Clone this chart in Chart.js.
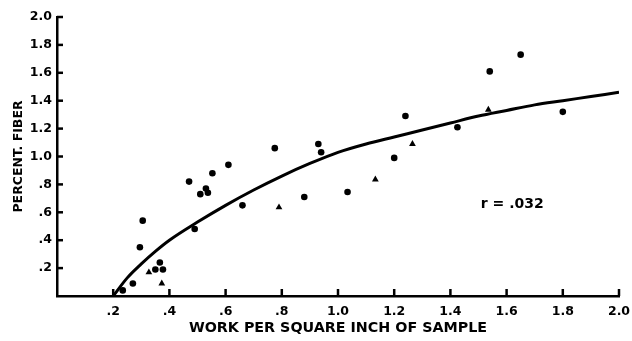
<!DOCTYPE html>
<html><head><meta charset="utf-8">
<script src="https://cdn.jsdelivr.net/npm/chart.js@4"></script>
<style>html,body{margin:0;padding:0;background:#fff}#w{width:632px;height:341px}</style>
</head><body><div id="w"><canvas id="c"></canvas></div>
<script>
const dotX = [0.234,0.27,0.295,0.305,0.35,0.366,0.377,0.47,0.49,0.51,0.53,0.537,0.553,0.61,0.66,0.775,0.88,0.93,0.94,1.034,1.20,1.24,1.425,1.54,1.65,1.80];
const dotY = [0.04,0.09,0.35,0.54,0.19,0.24,0.19,0.82,0.48,0.73,0.77,0.74,0.88,0.94,0.65,1.06,0.71,1.09,1.03,0.745,0.99,1.29,1.21,1.61,1.73,1.32];
const triX = [0.327,0.373,0.79,1.133,1.265,1.535];
const triY = [0.17,0.09,0.635,0.835,1.09,1.335];
const curveX = [0.2,0.25,0.3,0.35,0.4,0.5,0.6,0.7,0.8,0.9,1.0,1.1,1.2,1.3,1.4,1.5,1.6,1.7,1.8,1.9,2.0];
const curveY = [0,0.13,0.23,0.32,0.40,0.53,0.65,0.76,0.86,0.95,1.03,1.09,1.14,1.19,1.24,1.29,1.33,1.37,1.40,1.43,1.46];
const tickValues = [0.2,0.4,0.6,0.8,1.0,1.2,1.4,1.6,1.8,2.0];
const xTitle = 'WORK PER SQUARE INCH OF SAMPLE';
const yTitle = 'PERCENT. FIBER';
const note = 'r = .032';
const noteAt = [1.62, 0.66];

const pts = (xs, ys) => xs.map((x, i) => ({x, y: ys[i]}));
const fmt = v => { if (Math.abs(v) < 1e-9) return ''; const s = v.toFixed(1); return v < 1 ? s.slice(1) : s; };
const FAM = '"DejaVu Sans", "Liberation Sans", Arial, sans-serif';
const FONT = {family: FAM, weight: 'bold', size: 12.5};

const extras = {
  id: 'extras',
  afterDraw(chart) {
    const ctx = chart.ctx, xs = chart.scales.x, ys = chart.scales.y;
    ctx.save();
    ctx.strokeStyle = '#000'; ctx.lineWidth = 2.5;
    const x0 = xs.getPixelForValue(0), y0 = ys.getPixelForValue(0);
    tickValues.forEach(v => {
      const px = xs.getPixelForValue(v);
      ctx.beginPath(); ctx.moveTo(px, y0); ctx.lineTo(px, y0 - 7); ctx.stroke();
      const py = ys.getPixelForValue(v);
      ctx.beginPath(); ctx.moveTo(x0, py); ctx.lineTo(x0 + 6, py); ctx.stroke();
    });
    ctx.fillStyle = '#000';
    ctx.font = 'bold 14px ' + FAM;
    ctx.textAlign = 'center'; ctx.textBaseline = 'middle';
    ctx.fillText(note, xs.getPixelForValue(noteAt[0]), ys.getPixelForValue(noteAt[1]));
    ctx.restore();
  }
};

new Chart(document.getElementById('c'), {
  type: 'scatter',
  data: {
    datasets: [
      {data: pts(curveX, curveY), showLine: true, borderColor: '#000', borderWidth: 3, pointRadius: 0, cubicInterpolationMode: 'monotone', fill: false},
      {data: pts(dotX, dotY), pointStyle: 'circle', pointRadius: 3.3, backgroundColor: '#000', borderColor: '#000', borderWidth: 0},
      {data: pts(triX, triY), pointStyle: 'triangle', pointRadius: 3.9, backgroundColor: '#000', borderColor: '#000', borderWidth: 0}
    ]
  },
  options: {
    responsive: true, maintainAspectRatio: false, animation: false,
    layout: {padding: {top: 17, right: 0, left: 0, bottom: 0}},
    plugins: {legend: {display: false}, tooltip: {enabled: false}},
    scales: {
      x: {
        type: 'linear', min: 0, max: 2.0,
        afterBuildTicks: s => { s.ticks = [0, ...tickValues].map(v => ({value: v})); },
        afterFit: s => { s.height = 45; s.paddingRight = 13; },
        grid: {display: false, drawTicks: false},
        border: {color: '#000', width: 2.5},
        ticks: {color: '#000', font: FONT, padding: 8, callback: fmt, maxRotation: 0, autoSkip: false},
        title: {display: true, text: xTitle, color: '#000', font: {family: FAM, weight: 'bold', size: 14.3}, padding: {top: 0, bottom: 4}}
      },
      y: {
        type: 'linear', min: 0, max: 2.0,
        afterBuildTicks: s => { s.ticks = [0, ...tickValues].map(v => ({value: v})); },
        afterFit: s => { s.width = 57; },
        grid: {display: false, drawTicks: false},
        border: {color: '#000', width: 2.5},
        ticks: {color: '#000', font: FONT, padding: 5, callback: fmt, autoSkip: false},
        title: {display: true, text: yTitle, color: '#000', font: {family: FAM, weight: 'bold', size: 12.5}, padding: {top: 11, bottom: 0}}
      }
    }
  },
  plugins: [extras]
});
</script>
</body></html>
